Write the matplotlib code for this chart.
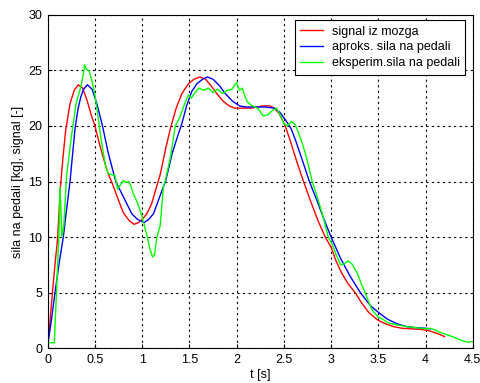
import matplotlib
matplotlib.use("Agg")
import matplotlib.pyplot as plt

plt.rcParams['font.family'] = ['Liberation Sans', 'DejaVu Sans']

t_red = [0.0, 0.025, 0.05, 0.08, 0.106, 0.13, 0.16, 0.19, 0.236, 0.28, 0.324, 0.37, 0.42, 0.46, 0.5, 0.55, 0.6, 0.64, 0.68, 0.75, 0.8, 0.86, 0.914, 0.96, 1.0, 1.05, 1.1, 1.19, 1.25, 1.3, 1.36, 1.42, 1.49, 1.55, 1.61, 1.67, 1.73, 1.79, 1.86, 1.92, 1.98, 2.07, 2.15, 2.22, 2.28, 2.35, 2.4, 2.45, 2.51, 2.57, 2.64, 2.708, 2.78, 2.86, 2.938, 3.0, 3.05, 3.11, 3.18, 3.255, 3.33, 3.4, 3.5, 3.58, 3.66, 3.75, 3.85, 3.95, 4.03, 4.1, 4.15, 4.2]
y_red = [0.3, 2.5, 5.0, 7.8, 10.0, 14.0, 17.0, 19.6, 22.0, 23.2, 23.7, 23.4, 22.2, 21.0, 20.0, 18.3, 16.8, 15.7, 14.9, 13.3, 12.2, 11.5, 11.15, 11.3, 11.6, 12.1, 13.0, 15.6, 18.0, 19.8, 21.6, 22.9, 23.8, 24.2, 24.4, 24.2, 23.6, 22.9, 22.2, 21.8, 21.6, 21.6, 21.6, 21.7, 21.8, 21.8, 21.6, 21.1, 20.1, 18.6, 16.7, 15.0, 13.3, 11.5, 10.0, 9.1, 7.9, 6.8, 5.8, 5.0, 4.0, 3.2, 2.5, 2.2, 1.95, 1.8, 1.75, 1.7, 1.6, 1.4, 1.25, 1.05]

t_blue = [0.0, 0.04, 0.077, 0.12, 0.165, 0.2, 0.236, 0.265, 0.29, 0.32, 0.35, 0.38, 0.42, 0.47, 0.52, 0.58, 0.64, 0.72, 0.82, 0.89, 0.95, 1.02, 1.07, 1.12, 1.18, 1.25, 1.32, 1.38, 1.42, 1.47, 1.525, 1.58, 1.64, 1.69, 1.75, 1.82, 1.88, 1.96, 2.03, 2.1, 2.2, 2.3, 2.4, 2.46, 2.52, 2.574, 2.62, 2.7, 2.77, 2.85, 2.92, 3.0, 3.1, 3.2, 3.31, 3.42, 3.52, 3.6, 3.7, 3.8, 3.9, 4.0, 4.05]
y_blue = [0.3, 2.6, 5.0, 7.6, 10.0, 12.5, 15.0, 17.6, 19.8, 21.5, 22.6, 23.3, 23.7, 23.3, 22.0, 20.0, 17.6, 15.0, 13.3, 12.1, 11.6, 11.3, 11.6, 12.1, 13.5, 15.1, 17.6, 19.2, 20.2, 21.8, 23.1, 23.8, 24.2, 24.4, 24.2, 23.6, 22.9, 22.2, 21.8, 21.7, 21.7, 21.7, 21.6, 21.2, 20.5, 19.8, 18.8, 16.8, 15.0, 13.3, 11.7, 10.0, 8.1, 6.5, 5.0, 3.8, 3.1, 2.6, 2.2, 1.95, 1.85, 1.8, 1.75]

t_green = [0.0, 0.07, 0.085, 0.1, 0.12, 0.13, 0.14, 0.15, 0.17, 0.2, 0.25, 0.3, 0.35, 0.38, 0.39, 0.41, 0.44, 0.47, 0.5, 0.53, 0.57, 0.61, 0.64, 0.68, 0.71, 0.74, 0.77, 0.8, 0.83, 0.86, 0.88, 0.91, 0.94, 0.97, 1.0, 1.03, 1.055, 1.08, 1.11, 1.13, 1.155, 1.19, 1.21, 1.225, 1.25, 1.3, 1.35, 1.4, 1.45, 1.49, 1.52, 1.56, 1.6, 1.65, 1.7, 1.75, 1.8, 1.85, 1.9, 1.95, 2.0, 2.03, 2.06, 2.09, 2.11, 2.15, 2.19, 2.22, 2.25, 2.28, 2.33, 2.38, 2.42, 2.46, 2.5, 2.54, 2.58, 2.62, 2.65, 2.7, 2.75, 2.8, 2.85, 2.9, 2.97, 3.01, 3.05, 3.1, 3.14, 3.18, 3.22, 3.28, 3.32, 3.36, 3.43, 3.5, 3.55, 3.6, 3.7, 3.8, 3.9, 4.0, 4.05, 4.1, 4.15, 4.2, 4.3, 4.4, 4.45, 4.5]
y_green = [0.5, 0.5, 3.5, 6.5, 10.5, 14.5, 12.5, 10.0, 11.0, 15.5, 19.0, 22.0, 23.5, 24.8, 25.5, 25.1, 24.9, 24.0, 22.8, 21.0, 18.5, 16.5, 15.7, 15.6, 15.6, 14.3, 14.7, 15.1, 14.9, 15.0, 14.6, 13.8, 13.3, 12.6, 11.8, 10.8, 10.0, 9.0, 8.2, 8.4, 10.0, 11.0, 13.0, 14.5, 15.3, 17.2, 20.0, 20.8, 22.0, 22.8, 22.5, 23.0, 23.4, 23.2, 23.4, 23.0, 23.3, 22.9, 23.2, 23.3, 23.9, 23.2, 23.4, 22.6, 22.2, 21.9, 21.7, 21.6, 21.3, 20.9, 21.0, 21.4, 21.6, 21.0, 20.2, 20.0, 20.4, 20.1, 19.5, 18.3, 16.8, 15.0, 13.7, 12.3, 10.0, 9.4, 8.5, 7.5, 7.6, 7.85, 7.6, 6.7, 5.8, 5.0, 3.5, 2.8, 2.6, 2.3, 2.1, 1.95, 1.85, 1.75, 1.8, 1.65, 1.45, 1.3, 1.0, 0.65, 0.55, 0.6]

labels = ['signal iz mozga', 'aproks. sila na pedali', 'eksperim.sila na pedali']
x_ticks = [0, 0.5, 1, 1.5, 2, 2.5, 3, 3.5, 4, 4.5]
x_ticklabels = ['0', '0.5', '1', '1.5', '2', '2.5', '3', '3.5', '4', '4.5']
y_ticks = [0, 5, 10, 15, 20, 25, 30]

fig = plt.figure(figsize=(4.8, 3.83), dpi=100)
ax = fig.add_axes([0.0994, 0.0906, 0.8856, 0.871])

ax.plot(t_red, y_red, color='#ff0000', lw=1.0, label=labels[0])
ax.plot(t_blue, y_blue, color='#0000ff', lw=1.0, label=labels[1])
ax.plot(t_green, y_green, color='#00ff00', lw=1.0, label=labels[2])

ax.set_xlim(0, 4.5)
ax.set_ylim(0, 30)
ax.set_xticks(x_ticks)
ax.set_xticklabels(x_ticklabels)
ax.set_yticks(y_ticks)
ax.grid(True, color='black', linestyle=(0, (2, 3)), linewidth=0.8)
ax.tick_params(direction='in', labelsize=9, length=3, colors='black', pad=4)
for s in ax.spines.values():
    s.set_linewidth(0.8)

ax.set_xlabel('t [s]', fontsize=9, labelpad=2)
ax.set_ylabel('sila na pedali [kg], signal [-]', fontsize=9, labelpad=3)

leg = ax.legend(loc='upper right', bbox_to_anchor=(0.982, 0.984), borderaxespad=0,
                fontsize=9, fancybox=False, framealpha=1, edgecolor='black',
                handlelength=1.8, handletextpad=0.7, labelspacing=0.3, borderpad=0.45)
leg.get_frame().set_linewidth(0.8)

fig.savefig('out.png', dpi=100)
